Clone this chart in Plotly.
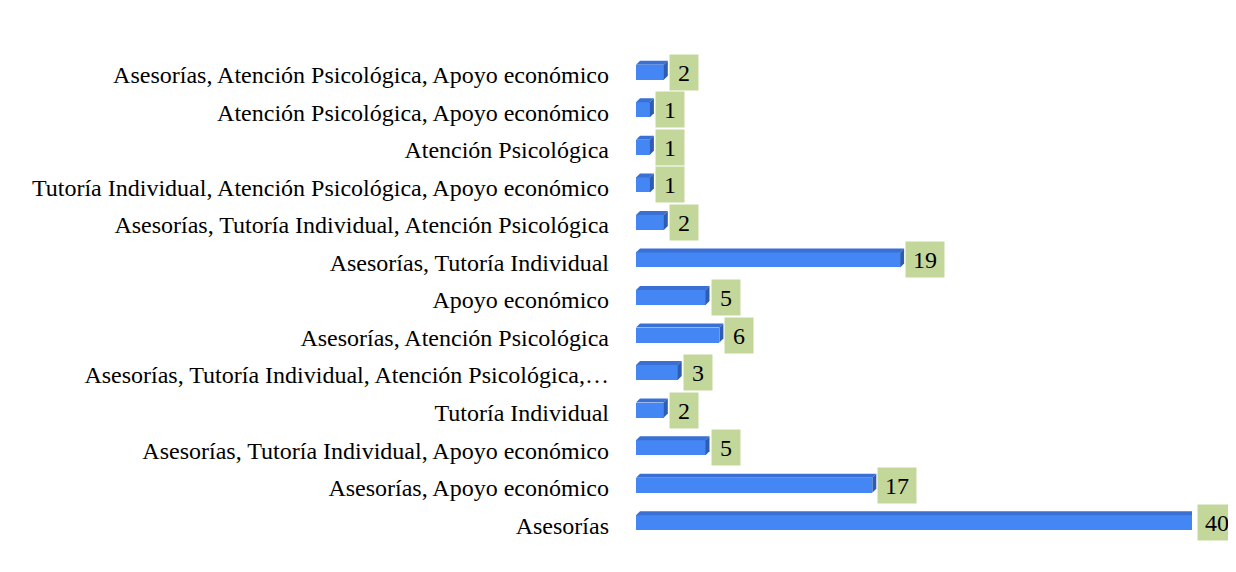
import plotly.graph_objects as go

categories = [
    "Asesorías",
    "Asesorías, Apoyo económico",
    "Asesorías, Tutoría Individual, Apoyo económico",
    "Tutoría Individual",
    "Asesorías, Tutoría Individual, Atención Psicológica,…",
    "Asesorías, Atención Psicológica",
    "Apoyo económico",
    "Asesorías, Tutoría Individual",
    "Asesorías, Tutoría Individual, Atención Psicológica",
    "Tutoría Individual, Atención Psicológica, Apoyo económico",
    "Atención Psicológica",
    "Atención Psicológica, Apoyo económico",
    "Asesorías, Atención Psicológica, Apoyo económico",
]
values = [40, 17, 5, 2, 3, 6, 5, 19, 2, 1, 1, 1, 2]

FONT = "Liberation Serif, Times New Roman, serif"
FRONT = "#4487f4"
TOP = "#3a70d4"
SIDE = "#2c5cb4"
LABEL_BG = "#c4d79b"

# page body has an 8px default margin; compensate
W, H = 1228, 564
ML, MR, MT, MB = 628, 44, 48, 28
XMAX = 40
px_per_unit = (W - ML - MR) / XMAX
DEPTH = 4  # px
d_units = DEPTH / px_per_unit

idx = list(range(len(categories)))

fig = go.Figure()
fig.add_trace(go.Bar(
    x=values, y=idx, orientation="h",
    width=0.4, offset=-0.133,
    marker=dict(color=FRONT, line=dict(width=0)),
    hoverinfo="skip",
))

shapes = []
annotations = []
for i, v in zip(idx, values):
    # top face
    shapes.append(dict(
        type="path", xref="x", yref="y",
        ysizemode="pixel", yanchor=i,
        path=f"M 0,10 L {v},10 L {v + d_units},{10 + DEPTH} L {d_units},{10 + DEPTH} Z",
        fillcolor=TOP, line=dict(width=0), layer="above",
    ))
    # side face
    shapes.append(dict(
        type="path", xref="x", yref="y",
        xsizemode="pixel", xanchor=v,
        ysizemode="pixel", yanchor=i,
        path=f"M 0,-5 L 0,10 L {DEPTH},{10 + DEPTH} L {DEPTH},{-5 + DEPTH} Z",
        fillcolor=SIDE, line=dict(width=0), layer="above",
    ))
    annotations.append(dict(
        x=v, y=i, xref="x", yref="y",
        text=str(v), showarrow=False,
        xanchor="left", yanchor="middle",
        xshift=5, yshift=2.5,
        width=26 if v < 10 else 36, height=33,
        borderpad=1,
        bgcolor=LABEL_BG, align="center",
        font=dict(family=FONT, size=24, color="black"),
    ))

fig.update_layout(
    width=W, height=H,
    margin=dict(l=ML, r=MR, t=MT, b=MB, pad=0),
    plot_bgcolor="white", paper_bgcolor="white",
    showlegend=False,
    shapes=shapes, annotations=annotations,
    bargap=0,
    xaxis=dict(range=[0, XMAX], visible=False, fixedrange=True),
    yaxis=dict(
        range=[-0.5, len(categories) - 0.5],
        tickmode="array", tickvals=idx, ticktext=categories,
        showgrid=False, zeroline=False, showline=False, ticks="",
        ticklabelstandoff=26,
        tickfont=dict(family=FONT, size=24, color="black"),
        fixedrange=True,
    ),
)

fig.write_html("out.html")
